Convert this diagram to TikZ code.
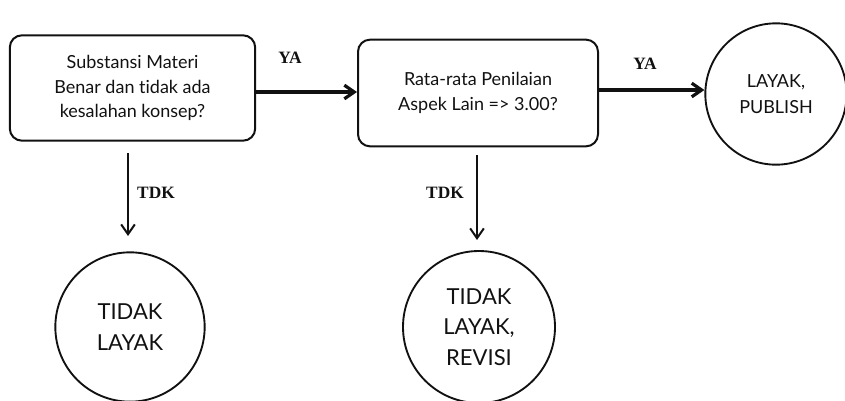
\documentclass[tikz,border=0pt]{standalone}
\usepackage{fontspec}
\setmainfont{Lato}[Ligatures={NoCommon}]
\newfontfamily\lblfont{Liberation Serif}
\usetikzlibrary{arrows.meta,positioning}
\definecolor{ink}{HTML}{111111}
\tikzset{
  >={Straight Barb[length=2.6mm,width=3.6mm]},
  qbox/.style={draw=ink,line width=1.5pt,rounded corners=9pt,align=center,
    font=\fontsize{13.5}{18.5}\selectfont,text=ink,inner sep=0pt},
  endc/.style={circle,draw=ink,line width=1.4pt,align=center,
    text=ink,inner sep=0pt},
  yesarr/.style={->,ink,line width=2.4pt},
  noarr/.style={->,ink,line width=1.5pt},
  branch/.style={font=\lblfont\bfseries\fontsize{13}{15}\selectfont,text=ink},
}
\begin{document}
\begin{tikzpicture}[x=0.75pt,y=-0.75pt]
\useasboundingbox (0,0) rectangle (845,400);

% ---------- decisions ----------
\node[qbox,minimum width=184pt,minimum height=79pt] (subst) at (132.5,88) {Substansi Materi\\Benar dan tidak ada\\kesalahan konsep?};
\node[qbox,minimum width=180pt,minimum height=80pt] (rata) at (478,93) {Rata-rata Penilaian\\Aspek Lain => 3.00?};

% ---------- outcomes ----------
\node[endc,minimum size=106pt,font=\fontsize{13.5}{19}\selectfont] (publish) at (776,94) {LAYAK,\\PUBLISH};
\node[endc,minimum size=112pt,font=\fontsize{16.5}{23}\selectfont] (tlayak) at (130,327) {TIDAK\\LAYAK};
\node[endc,minimum size=114pt,font=\fontsize{16.5}{23}\selectfont] (revisi) at (479,327) {TIDAK\\LAYAK,\\REVISI};

% ---------- connectors ----------
\coordinate (s1) at (128,153);
\coordinate (e1) at (128,236);
\coordinate (s2) at (477,155);
\coordinate (e2) at (477,240);
\draw[yesarr] (subst.east |- 0,92) -- (rata.west |- 0,92);
\draw[yesarr] (rata.east |- 0,90) -- (publish.west |- 0,90);
\draw[noarr] (s1) -- (e1);
\draw[noarr] (s2) -- (e2);

% ---------- branch labels ----------
\node[branch] (ya1) at (290,58) {YA};
\node[branch] (ya2) at (645,64) {YA};
\node[branch] (tdk1) at (156,193) {TDK};
\node[branch] (tdk2) at (445,193) {TDK};

\end{tikzpicture}
\end{document}
